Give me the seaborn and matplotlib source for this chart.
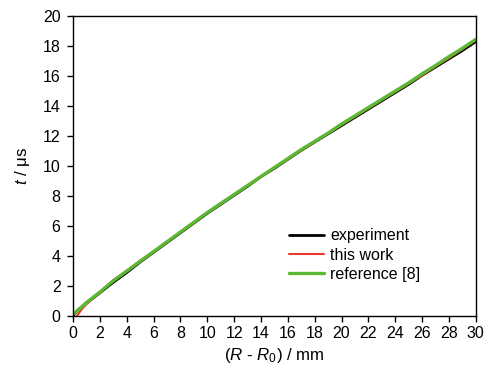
import matplotlib
matplotlib.use("Agg")
import matplotlib.pyplot as plt
import seaborn as sns
import pandas as pd

# distance (R - R0) in mm
x_exp = [0, 0.3, 1, 2, 3, 4, 5, 6, 7, 8, 9, 10, 11, 12, 13, 14, 15, 16, 17, 18, 19, 20,
         21, 22, 23, 24, 25, 26, 27, 28, 29, 30]
t_exp = [0, 0.35, 0.85, 1.55, 2.25, 2.9, 3.6, 4.25, 4.9, 5.55, 6.2, 6.85, 7.45, 8.05, 8.65,
         9.3, 9.85, 10.45, 11.05, 11.6, 12.15, 12.7, 13.25, 13.8, 14.35, 14.9, 15.45, 16.05,
         16.6, 17.15, 17.7, 18.3]

x_work = [0.3, 0.6, 1, 2, 3, 4, 5, 6, 7, 8, 9, 10, 11, 12, 13, 14, 15, 16, 17, 18, 19, 20,
          21, 22, 23, 24, 25, 26, 27, 28, 29, 30]
t_work = [0, 0.4, 0.8, 1.6, 2.4, 3.0, 3.7, 4.3, 4.95, 5.6, 6.25, 6.9, 7.5, 8.1, 8.7,
          9.3, 9.9, 10.45, 11.05, 11.6, 12.2, 12.75, 13.3, 13.85, 14.4, 14.95, 15.5, 16.05,
          16.65, 17.2, 17.8, 18.4]

x_ref = [0, 0.5, 1, 2, 3, 4, 5, 6, 7, 8, 9, 10, 11, 12, 13, 14, 15, 16, 17, 18, 19, 20,
         21, 22, 23, 24, 25, 26, 27, 28, 29, 30]
t_ref = [0.1, 0.5, 0.9, 1.6, 2.35, 3.0, 3.65, 4.3, 4.95, 5.6, 6.25, 6.9, 7.5, 8.1, 8.7,
         9.3, 9.9, 10.5, 11.1, 11.65, 12.2, 12.8, 13.35, 13.9, 14.45, 15.0, 15.55, 16.15,
         16.7, 17.3, 17.85, 18.45]

labels = ["experiment", "this work", "reference [8]"]
colors = ["#000000", "#e83a2c", "#5cb833"]
widths = [2.0, 1.5, 2.4]

sns.set_theme(style="ticks")
plt.rcParams["font.family"] = ["Liberation Sans", "DejaVu Sans"]
plt.rcParams["mathtext.fontset"] = "custom"
plt.rcParams["mathtext.rm"] = "Liberation Sans"
plt.rcParams["mathtext.it"] = "Liberation Sans:italic"
plt.rcParams["text.color"] = "black"

df = pd.concat([
    pd.DataFrame({"x": x_exp, "t": t_exp, "s": labels[0]}),
    pd.DataFrame({"x": x_work, "t": t_work, "s": labels[1]}),
    pd.DataFrame({"x": x_ref, "t": t_ref, "s": labels[2]}),
])

fig = plt.figure(figsize=(4.88, 3.74), dpi=100)
ax = fig.add_axes([0.1496, 0.155, 0.8254, 0.802])

for lab, c, lw in zip(labels, colors, widths):
    d = df[df["s"] == lab]
    sns.lineplot(data=d, x="x", y="t", ax=ax, color=c, linewidth=lw, label=lab,
                 sort=False, estimator=None)

ax.set_xlim(0, 30)
ax.set_ylim(0, 20)
ax.set_xticks(range(0, 31, 2))
ax.set_yticks(range(0, 21, 2))
ax.tick_params(direction="out", length=4, width=1, labelsize=11.5, color="black",
               labelcolor="black")
ax.tick_params(axis="y", pad=5)
ax.tick_params(axis="x", pad=3)
for sp in ax.spines.values():
    sp.set_visible(True)
    sp.set_color("black")
    sp.set_linewidth(1)

ax.set_xlabel(r"($\mathit{R}$ - $\mathit{R}_0$) / mm", fontsize=12.2, color="black",
              labelpad=4)
ax.set_ylabel(r"$\mathit{t}$ / μs", fontsize=12.2, color="black", labelpad=8)

leg = ax.legend(loc="upper left", bbox_to_anchor=(0.5, 0.34), frameon=False,
                fontsize=11.5, handlelength=2.2, handletextpad=0.4, labelspacing=0.26)
for txt in leg.get_texts():
    txt.set_color("black")

fig.savefig("out.png", dpi=100)
